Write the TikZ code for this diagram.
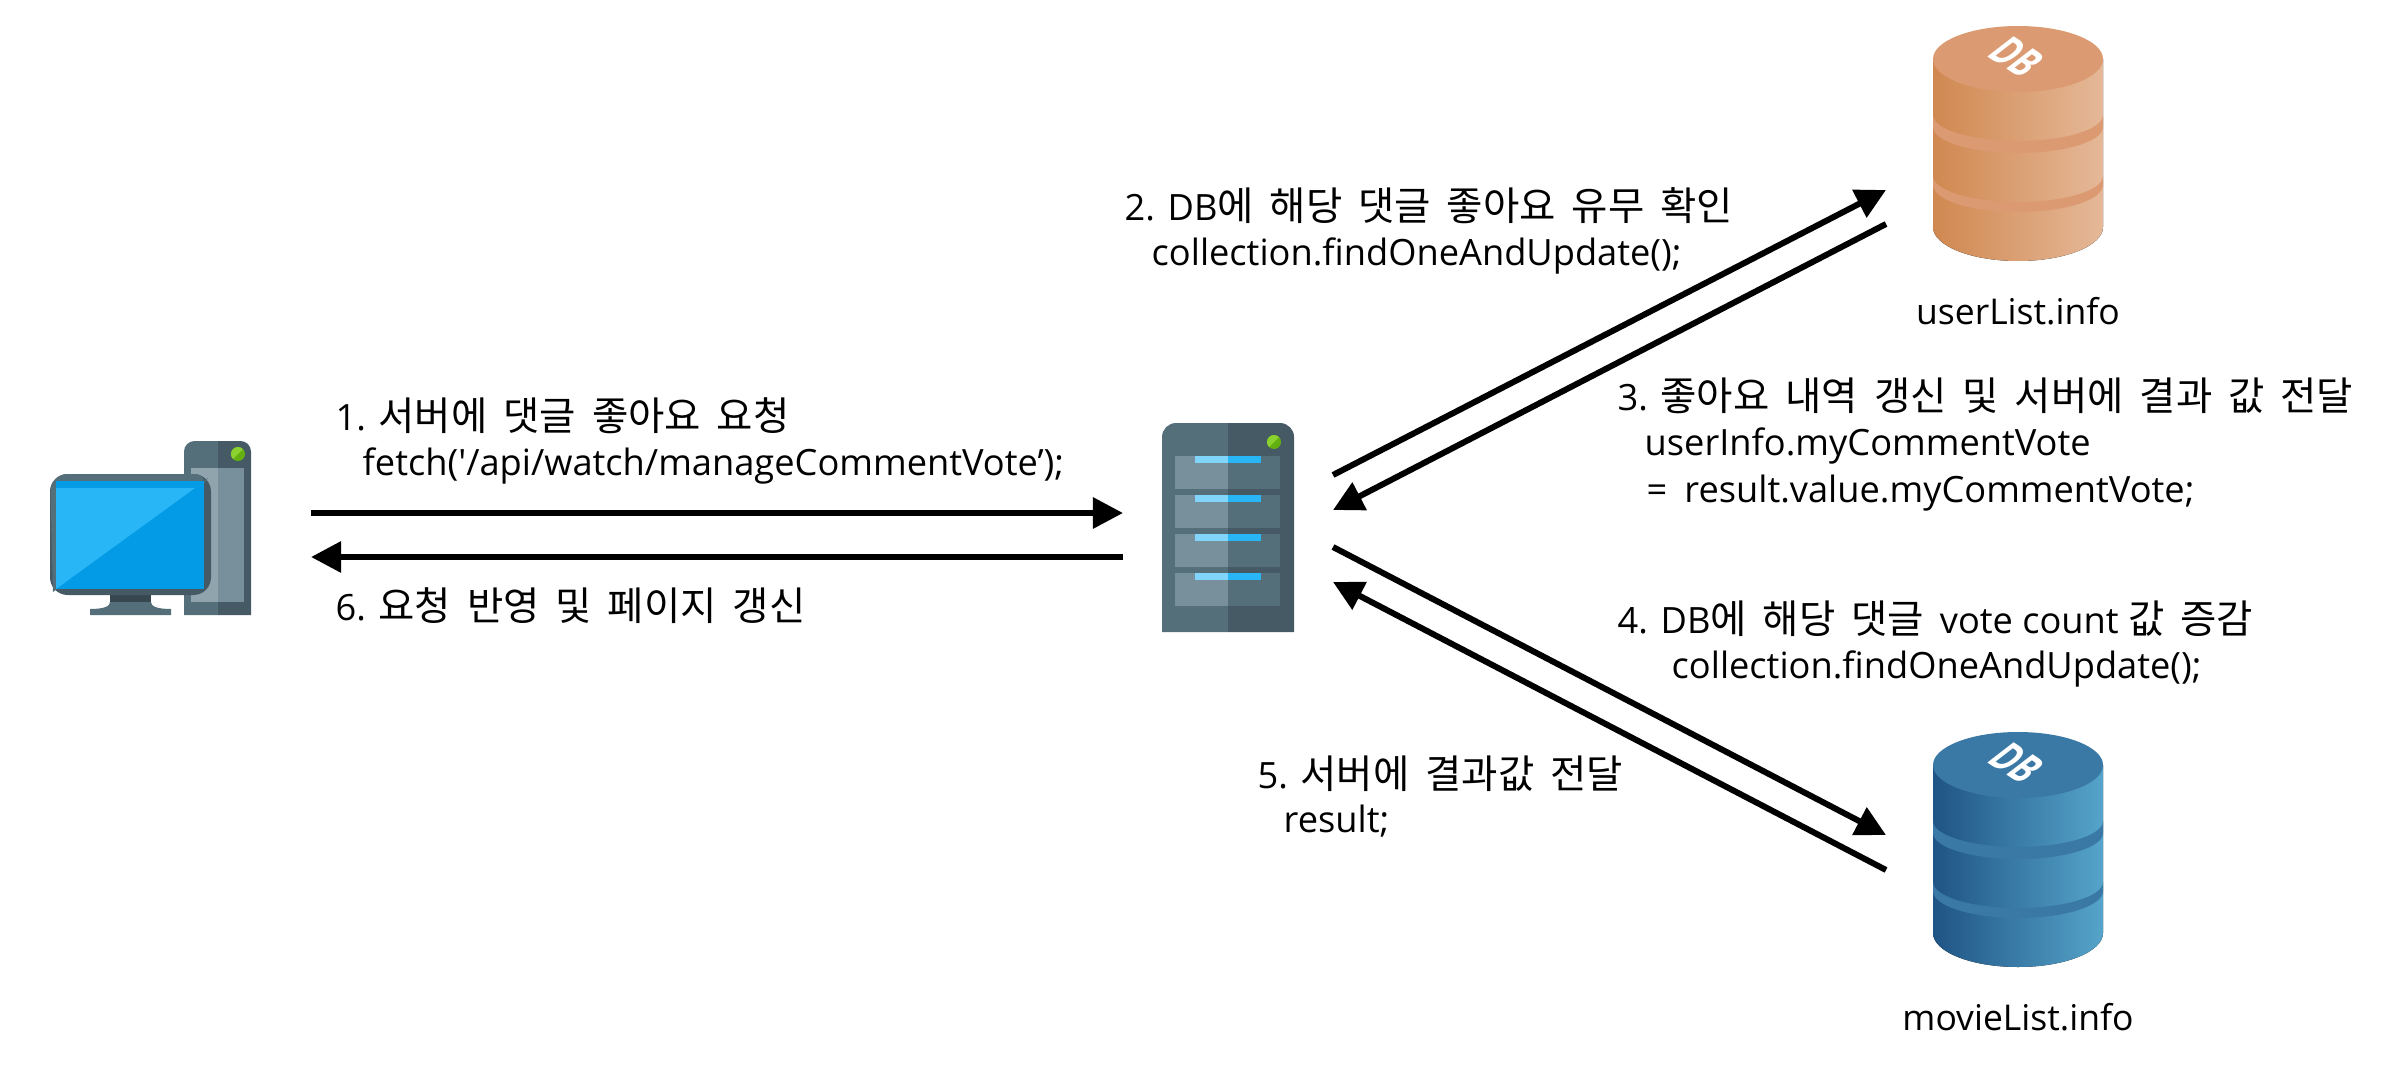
\documentclass[tikz,border=0pt]{standalone}
\usepackage{fontspec}
\setmainfont{Open Sans}
\newfontfamily\krfont[Scale=1.09,WordSpace=1.8]{Noto Sans CJK KR}
\newfontfamily\codefont{Open Sans}
\newcommand{\kr}[1]{{\krfont #1}}
\usetikzlibrary{arrows.meta,calc,positioning}
\definecolor{slatea}{HTML}{546E7A}
\definecolor{slateb}{HTML}{455A64}
\definecolor{slatec}{HTML}{78909C}
\definecolor{slated}{HTML}{90A4AE}
\definecolor{slatee}{HTML}{37474F}
\definecolor{screena}{HTML}{039BE5}
\definecolor{screenb}{HTML}{29B6F6}
\definecolor{bara}{HTML}{81D4FA}
\definecolor{leda}{HTML}{8BD12F}
\definecolor{ledb}{HTML}{64B010}
\definecolor{orangea}{HTML}{D08850}
\definecolor{orangeb}{HTML}{E5B898}
\definecolor{orangec}{HTML}{DB9A72}
\definecolor{bluea}{HTML}{1F5485}
\definecolor{blueb}{HTML}{55A4CA}
\definecolor{bluec}{HTML}{3A78A5}
\tikzset{
  flow/.style={line width=0.06cm, -{Triangle[length=0.30cm,width=0.30cm]}},
  steplabel/.style={anchor=base west, inner sep=0pt, font=\codefont\fontsize{10.3}{13}\selectfont},
  dbname/.style={anchor=base, inner sep=0pt, font=\codefont\fontsize{10.1}{13}\selectfont},
  dbmark/.style={inner sep=0pt, text=white, transform shape, font=\codefont\bfseries\fontsize{10}{10}\selectfont},
  pics/dbstack/.style n args={3}{code={
    \fill[left color=#1, right color=#2, middle color=#1!50!#2]
      (-85,0) -- (-85,168) arc[start angle=180, end angle=0, x radius=85, y radius=34]
      -- (85,0) -- cycle;
    \fill[#3] (-85,56) arc[start angle=180, end angle=0, x radius=85, y radius=26]
      -- (85,68) arc[start angle=0, end angle=180, x radius=85, y radius=26] -- cycle;
    \fill[#3] (-85,117) arc[start angle=180, end angle=0, x radius=85, y radius=26]
      -- (85,126) arc[start angle=0, end angle=180, x radius=85, y radius=27] -- cycle;
    \fill[#3] (0,0) ellipse[x radius=85, y radius=33];
    \node[dbmark, cm={0.72,-0.48,1.05,0.81,(-1,-2)}] (-mark) at (0,0) {DB};
  }}
}
\begin{document}
\begin{tikzpicture}[x=0.01cm, y=-0.01cm]
\useasboundingbox (0,0) rectangle (2388,1073);
% client
\fill[slatea] (218,615) -- (184,615) [rounded corners=3] -- (184,441) [sharp corners] -- (218,441) -- cycle;
\fill[slateb] (218,615) -- (251,615) [rounded corners=3] -- (251,441) [sharp corners] -- (218,441) -- cycle;
\fill[slated] (191,468) rectangle (218,602);
\fill[slatec] (218,468) rectangle (244,602);
\fill[ledb] (238,454) circle[radius=7];
\fill[leda] (233,459) arc[start angle=135, end angle=315, radius=7] -- cycle;
\fill[slatee] (110,590) rectangle (151,609);
\fill[slatea] (90,615) -- (90,609) .. controls (105,609) and (110,606) .. (110,602) -- (151,602) .. controls (151,606) and (156,609) .. (171,609) -- (171,615) -- cycle;
\fill[slateb, rounded corners=5] (50,474) rectangle (211,595);
\fill[slatea] (53,592) [rounded corners=5] -- (50,474) -- (211,474) [sharp corners] -- (208,478) -- cycle;
\fill[screena] (56,481) rectangle (204,589);
\fill[screenb] (56,488) -- (195,488) -- (56,589) -- cycle;
\coordinate (pcout) at (311,513);
\coordinate (pcin) at (311,557);
% server
\fill[slatea] (1228,632) -- (1162,632) [rounded corners=4] -- (1162,423) [sharp corners] -- (1228,423) -- cycle;
\fill[slateb] (1228,632) -- (1294,632) [rounded corners=4] -- (1294,423) [sharp corners] -- (1228,423) -- cycle;
\fill[ledb] (1274,442) circle[radius=7];
\fill[leda] (1269,447) arc[start angle=135, end angle=315, radius=7] -- cycle;
\foreach \drawer in {456,495,534,573} {
  \fill[slatec] (1175,\drawer) rectangle (1228,\drawer+33);
  \fill[slatea] (1228,\drawer) rectangle (1280,\drawer+33);
  \fill[bara] (1195,\drawer) rectangle (1228,\drawer+7);
  \fill[screenb] (1228,\drawer) rectangle (1261,\drawer+7);
}
\coordinate (srvin) at (1123,513);
\coordinate (srvout) at (1123,557);
\coordinate (srva) at (1333,475);
\coordinate (srvb) at (1333,510);
\coordinate (srvc) at (1333,547);
\coordinate (srvd) at (1333,582);
% databases
\pic (userdb) at (2018,59) {dbstack={orangea}{orangeb}{orangec}};
\pic (moviedb) at (2018,765) {dbstack={bluea}{blueb}{bluec}};
\node[dbname] (userlabel) at (2018,324) {userList.info};
\node[dbname] (movielabel) at (2018,1030) {movieList.info};
\coordinate (usera) at (1886,190);
\coordinate (userb) at (1886,224);
\coordinate (moviea) at (1886,835);
\coordinate (movieb) at (1886,870);
% arrows
\draw[flow] (pcout) -- (srvin);
\draw[flow] (srvout) -- (pcin);
\draw[flow] (srva) -- (usera);
\draw[flow] (userb) -- (srvb);
\draw[flow] (srvc) -- (moviea);
\draw[flow] (movieb) -- (srvd);
% labels
\node[steplabel] (step1) at (335,430) {1. \kr{서버에 댓글 좋아요 요청}};
\node[steplabel] (step1code) at (362,475) {fetch('/api/watch/manageCommentVote’);};
\node[steplabel] (step6) at (335,620) {6. \kr{요청 반영 및 페이지 갱신}};
\node[steplabel] (step2) at (1124,221) {2. DB\kr{에 해당 댓글 좋아요 유무 확인}};
\node[steplabel] (step2code) at (1151,265) {collection.findOneAndUpdate();};
\node[steplabel] (step3) at (1617,410) {3. \kr{좋아요 내역 갱신 및 서버에 결과 값 전달}};
\node[steplabel] (step3code) at (1644,455) {userInfo.myCommentVote};
\node[steplabel] (step3val) at (1646,502) {=\hspace{0.47em}result.value.myCommentVote;};
\node[steplabel] (step4) at (1617,633) {4. DB\kr{에 해당 댓글 }vote count \kr{값 증감}};
\node[steplabel] (step4code) at (1671,678) {collection.findOneAndUpdate();};
\node[steplabel] (step5) at (1257,788) {5. \kr{서버에 결과값 전달}};
\node[steplabel] (step5code) at (1283,832) {result;};
\end{tikzpicture}
\end{document}
